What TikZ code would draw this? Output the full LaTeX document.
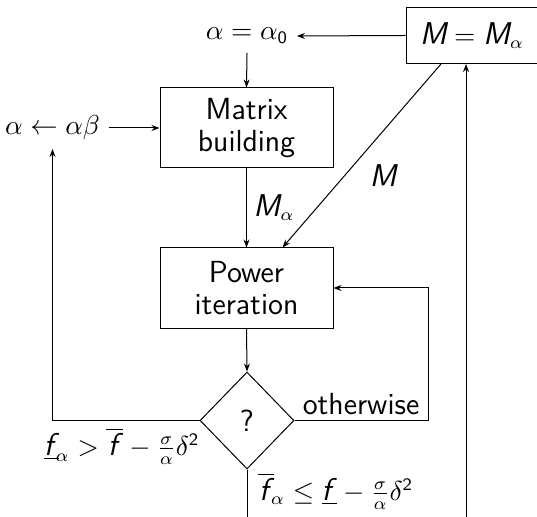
\documentclass[tikz,border=0pt]{standalone}
\usepackage{amsmath}
\usetikzlibrary{shapes.geometric,arrows.meta,calc}
\DeclareMathAlphabet{\mathsfup}{OT1}{cmss}{m}{n}
\newcommand{\sfit}[1]{\text{\fontsize{12.6}{14}\selectfont\sffamily\itshape #1}}
\newcommand{\fitc}{\text{\fontsize{12.6}{14}\selectfont\sffamily\itshape f\/}}
\newcommand{\fbar}{\overline{\mkern1mu\fitc}}
\newcommand{\funder}{\underline{\fitc}}
\begin{document}
\begin{tikzpicture}[x=0.4pt,y=-0.4pt,
  font=\fontsize{10.7}{13}\selectfont\sffamily,
  txt/.style={font=\fontsize{12.2}{13}\selectfont\sffamily},
  box/.style={draw,rectangle,minimum width=69.2pt,minimum height=32pt,align=center,inner sep=0pt,txt},
  arr/.style={-{Stealth[length=3.2pt,width=2.4pt]}}]
\useasboundingbox (0,0) rectangle (537,517);
\node[box] (mb) at (246.5,128) {Matrix\\building};
\node[box] (pi) at (246.5,288) {Power\\iteration};
\node[draw,diamond,inner sep=0pt,minimum width=37.6pt,minimum height=38.8pt,txt] (q) at (247,420.5) {?};
\node[box,minimum width=52.8pt,minimum height=22.4pt,font=\fontsize{10.7}{13}\selectfont] (mm) at (472,35.5) {$\sfit{M}=\sfit{M}_\alpha$};
\node (a0) at (247,36) {$\alpha=\alpha_{\mathsfup{0}}$};
\node (ab) at (52.5,128) {$\alpha\leftarrow\alpha\beta$};
\coordinate (b1) at (247,517);
\coordinate (b2) at (466,517);
\draw[arr] (mm.west) -- (a0.east);
\draw[arr] (a0.south) -- (mb.north);
\draw[arr] (ab.east) -- (mb.west);
\draw[arr] (mb.south) -- (pi.north);
\node (lma) at (274,208) {$\sfit{M}_\alpha$};
\draw[arr] ($(mm.south)+(-31,0)$) -- ($(pi.north)+(36,0)$);
\node (lm) at (383,176) {$\sfit{M}$};
\draw[arr] (pi.south) -- (q.north);
\draw[arr] (q.east) -- (428,420.5) |- (pi.east);
\node[txt] (lo) at (361,404) {otherwise};
\draw[arr] (q.west) -| (ab.south);
\node[anchor=east,inner sep=0pt] (lg) at (200,446) {$\funder_{\!\alpha} > \fbar - \frac{\sigma}{\alpha}\delta^{\mathsfup{2}}$};
\draw (q.south) -- (b1);
\node[anchor=west,inner sep=0pt] (ll) at (257,491) {$\fbar_{\!\alpha} \le \funder - \frac{\sigma}{\alpha}\delta^{\mathsfup{2}}$};
\draw[arr] (b2) -- (b2 |- mm.south);
\end{tikzpicture}
\end{document}
